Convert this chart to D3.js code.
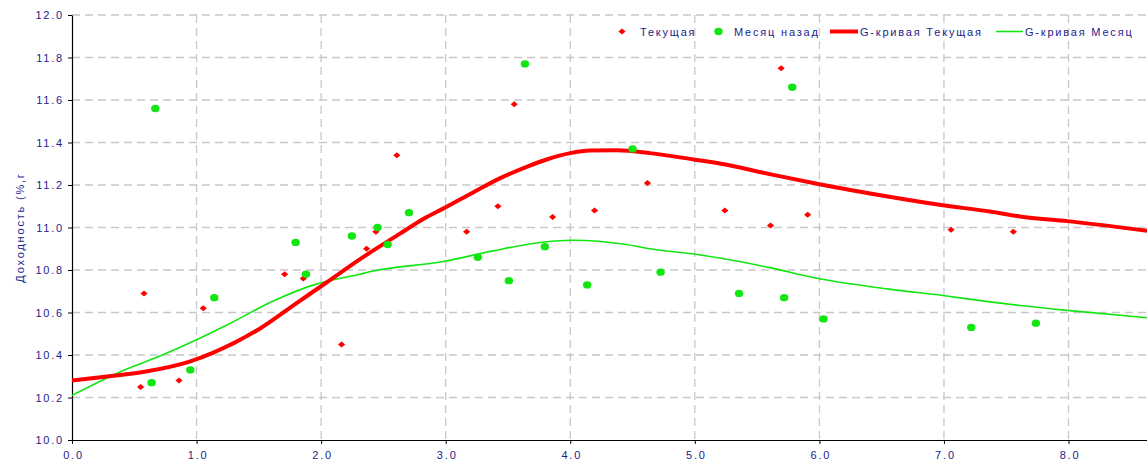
<!DOCTYPE html>
<html>
<head>
<meta charset="utf-8">
<script src="https://cdn.jsdelivr.net/npm/d3@7"></script>
<style>
  body { margin: 0; background: #fff; }
  text { font-family: "Liberation Sans", Arial, sans-serif; font-size: 11px; fill: #1c1c8c; letter-spacing: 1.8px; }
</style>
</head>
<body>
<div id="chart"></div>
<script>
// data
var curX  = [0.551, 0.578, 0.859, 1.054, 1.707, 1.857, 2.164, 2.365, 2.44, 2.608, 3.168, 3.419, 3.55, 3.858, 4.195, 4.62, 5.241, 5.608, 5.693, 5.906, 7.057, 7.557];
var curY  = [10.25, 10.69, 10.28, 10.62, 10.78, 10.76, 10.45, 10.90, 10.98, 11.34, 10.98, 11.10, 11.58, 11.05, 11.08, 11.21, 11.08, 11.01, 11.75, 11.06, 10.99, 10.98];

var prevX = [0.639, 0.669, 0.95, 1.142, 1.795, 1.878, 2.247, 2.453, 2.534, 2.705, 3.258, 3.507, 3.636, 3.796, 4.136, 4.5, 4.725, 5.355, 5.717, 5.782, 6.033, 7.219, 7.738];
var prevY = [10.27, 11.56, 10.33, 10.67, 10.93, 10.78, 10.96, 11.00, 10.92, 11.07, 10.86, 10.75, 11.77, 10.91, 10.73, 11.37, 10.79, 10.69, 10.67, 11.66, 10.57, 10.53, 10.55];

var gCurX = [0, 0.3, 0.57, 0.95, 1.13, 1.51, 1.78, 2.04, 2.31, 2.63, 2.82, 3.0, 3.22, 3.43, 3.65, 3.81, 4.0, 4.16, 4.37, 4.64, 4.99, 5.21, 5.61, 5.99, 6.56, 6.99, 7.37, 7.61, 7.99, 8.63];
var gCurY = [10.28, 10.30, 10.32, 10.37, 10.41, 10.525, 10.635, 10.74, 10.85, 10.97, 11.04, 11.095, 11.165, 11.23, 11.285, 11.32, 11.35, 11.362, 11.363, 11.35, 11.32, 11.30, 11.25, 11.205, 11.145, 11.105, 11.075, 11.052, 11.03, 10.985];

var gPrevX = [0, 0.385, 0.706, 1.03, 1.24, 1.62, 1.94, 2.31, 2.42, 2.98, 3.38, 3.70, 4.02, 4.45, 4.64, 4.99, 5.21, 5.61, 5.99, 6.56, 6.99, 7.37, 7.99, 8.63];
var gPrevY = [10.21, 10.32, 10.395, 10.48, 10.54, 10.655, 10.73, 10.78, 10.795, 10.84, 10.89, 10.925, 10.94, 10.92, 10.90, 10.875, 10.855, 10.81, 10.76, 10.71, 10.68, 10.65, 10.61, 10.575];

var xTicks = [0, 1, 2, 3, 4, 5, 6, 7, 8];
var yTicks = [10.0, 10.2, 10.4, 10.6, 10.8, 11.0, 11.2, 11.4, 11.6, 11.8, 12.0];
var legendNames = ["Текущая", "Месяц назад", "G-кривая Текущая", "G-кривая Месяц"];
var yLabel = "Доходность (%,г";

var RED = "#ff0000", GREEN = "#11e611";

var margin = {top: 15, right: 0, bottom: 23, left: 72},
    W = 1147, H = 463,
    width = W - margin.left - margin.right,
    height = H - margin.top - margin.bottom;

var svg = d3.select("#chart").append("svg")
    .attr("width", W).attr("height", H);

var g = svg.append("g")
    .attr("transform", "translate(" + margin.left + "," + margin.top + ")");

var x = d3.scaleLinear().domain([0, 8.63]).range([0, width]);
var y = d3.scaleLinear().domain([10, 12]).range([height, 0]);

svg.append("clipPath").attr("id", "clip")
  .append("rect").attr("width", width).attr("height", height + 1).attr("y", -1);

// grid
g.append("g").selectAll("line.h").data(yTicks.slice(1)).enter().append("line")
    .attr("x1", 0).attr("x2", width)
    .attr("y1", d => y(d)).attr("y2", d => y(d))
    .attr("stroke", "#c8c8c8").attr("stroke-width", 1.3).attr("stroke-dasharray", "8,5");
g.append("g").selectAll("line.v").data(xTicks.slice(1)).enter().append("line")
    .attr("x1", d => x(d)).attr("x2", d => x(d))
    .attr("y1", 0).attr("y2", height)
    .attr("stroke", "#c8c8c8").attr("stroke-width", 1.3).attr("stroke-dasharray", "8,5");

// axes
var xAxis = g.append("g").attr("transform", "translate(0," + height + ")")
    .call(d3.axisBottom(x).tickValues(xTicks).tickFormat(d3.format(".1f")).tickSize(4).tickSizeOuter(0));
var yAxis = g.append("g")
    .call(d3.axisLeft(y).tickValues(yTicks).tickFormat(d3.format(".1f")).tickSize(4).tickSizeOuter(0));
[xAxis, yAxis].forEach(function(a) {
  a.select(".domain").attr("stroke", "#000").attr("stroke-width", 1.2);
  a.selectAll(".tick line").attr("stroke", "#000");
  a.selectAll("text").attr("fill", "#1c1c8c").style("font-size", "11px")
    .style("font-family", "'Liberation Sans', Arial, sans-serif");
});
xAxis.selectAll("text").attr("dy", "1.1em").attr("dx", "1px");
yAxis.selectAll("text").attr("x", -8);

svg.append("text")
    .attr("transform", "translate(24," + (margin.top + height / 2) + ") rotate(-90)")
    .attr("text-anchor", "middle")
    .text(yLabel);

// curves
var plot = g.append("g").attr("clip-path", "url(#clip)");
var line = d3.line().x(d => x(d[0])).y(d => y(d[1])).curve(d3.curveMonotoneX);

plot.append("path").datum(d3.zip(gPrevX, gPrevY))
    .attr("d", line).attr("fill", "none").attr("stroke", GREEN).attr("stroke-width", 1.6);
plot.append("path").datum(d3.zip(gCurX, gCurY))
    .attr("d", line).attr("fill", "none").attr("stroke", RED).attr("stroke-width", 4);

// points
var diamond = "M-3.6,0L0,-3L3.6,0L0,3Z";
plot.selectAll("path.cur").data(d3.zip(curX, curY)).enter().append("path")
    .attr("class", "cur")
    .attr("d", diamond)
    .attr("transform", d => "translate(" + x(d[0]) + "," + y(d[1]) + ")")
    .attr("fill", RED);
plot.selectAll("ellipse.prev").data(d3.zip(prevX, prevY)).enter().append("ellipse")
    .attr("class", "prev")
    .attr("cx", d => x(d[0])).attr("cy", d => y(d[1]))
    .attr("rx", 4.2).attr("ry", 3.7)
    .attr("fill", GREEN);

// legend
var legend = svg.append("g").attr("transform", "translate(0,31.5)");
legend.append("path").attr("d", diamond).attr("transform", "translate(622,0)").attr("fill", RED);
legend.append("text").attr("x", 640).attr("y", 4).text(legendNames[0]);
legend.append("ellipse").attr("cx", 718.5).attr("cy", 0).attr("rx", 4.2).attr("ry", 3.7).attr("fill", GREEN);
legend.append("text").attr("x", 734).attr("y", 4).text(legendNames[1]);
legend.append("line").attr("x1", 830).attr("x2", 858).attr("y1", 0).attr("y2", 0)
    .attr("stroke", RED).attr("stroke-width", 4);
legend.append("text").attr("x", 860).attr("y", 4).text(legendNames[2]);
legend.append("line").attr("x1", 996).attr("x2", 1023).attr("y1", 0).attr("y2", 0)
    .attr("stroke", GREEN).attr("stroke-width", 1.6);
legend.append("text").attr("x", 1025).attr("y", 4).text(legendNames[3]);
</script>
</body>
</html>
